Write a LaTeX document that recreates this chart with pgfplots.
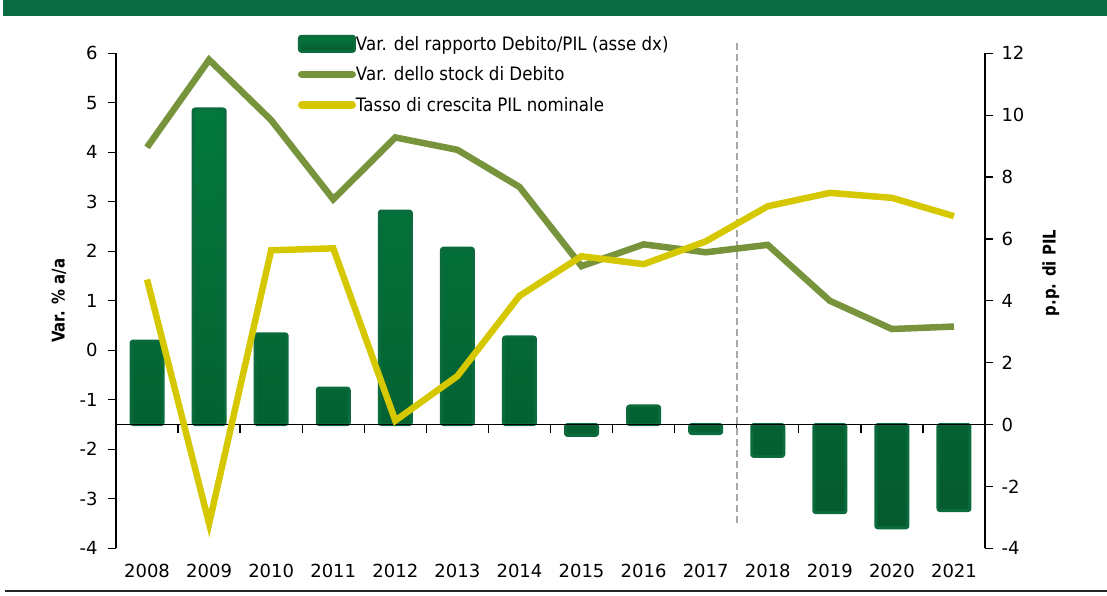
\documentclass[border=0pt]{standalone}
\usepackage{fontspec}
\setmainfont{DejaVu Sans}
\newfontfamily\legfont{DejaVu Sans}[FakeStretch=0.9]
\newfontfamily\labfont{DejaVu Sans}[FakeStretch=0.85]
\usepackage{pgfplots}
\usepackage{pgfplotstable}
\pgfplotsset{compat=1.18}

\definecolor{banner}{HTML}{096C44}
\definecolor{stock}{HTML}{77933C}
\definecolor{pil}{HTML}{D6C800}
\definecolor{barrim}{HTML}{0B6B3C}
\definecolor{bartop}{HTML}{03793D}
\definecolor{barbot}{HTML}{055A2E}

\pgfplotstableread{
x year bar stock pil
0 2008 2.70 4.10 1.43
1 2009 10.20 5.87 -3.50
2 2010 2.93 4.65 2.02
3 2011 1.18 3.05 2.06
4 2012 6.90 4.30 -1.42
5 2013 5.70 4.05 -0.52
6 2014 2.83 3.30 1.10
7 2015 -0.35 1.70 1.90
8 2016 0.60 2.14 1.74
9 2017 -0.29 1.98 2.20
10 2018 -1.03 2.13 2.91
11 2019 -2.85 1.00 3.18
12 2020 -3.34 0.43 3.08
13 2021 -2.78 0.48 2.71
}\datatable

\begin{document}
\begin{tikzpicture}[x=1pt,y=1pt]
\useasboundingbox (0,0) rectangle (1107,595);
\fill[banner] (3,579) rectangle (1107,595);
\draw[line width=2pt, black!85] (5,4) -- (1107,4);

% ---- bar axis (right) ----
\begin{axis}[
  at={(116pt,46.7pt)}, anchor=south west, scale only axis,
  width=869pt, height=495pt,
  xmin=-0.5, xmax=13.5, ymin=-4, ymax=12,
  axis x line=none, axis y line*=right,
  y axis line style={-, line width=1.3pt, black},
  ytick={-4,-2,...,12},
  y tick style={line width=1.3pt, black},
  major tick length=8pt, tick align=outside,
  /pgf/number format/assume math mode=true,
  yticklabel style={font=\fontsize{18}{21}\selectfont, xshift=5pt},
  ylabel={p.p. di PIL},
  ylabel style={font=\labfont\bfseries\fontsize{17.5}{20}\selectfont,
    at={(axis description cs:1.0756,0.556)}, anchor=center},
  clip=false,
]
\addplot[ybar, bar width=32pt, draw=barrim, line width=3pt, rounded corners=2pt,
  line join=round, top color=bartop, bottom color=barbot]
  table[x=x, y=bar] {\datatable};
\draw[black, line width=1.3pt] (axis cs:-0.5,0) -- (axis cs:13.5,0);
\pgfplotsinvokeforeach{0.5,1.5,...,12.5}{
  \draw[black, line width=1.3pt] (axis cs:#1,0) -- ++(0pt,-8pt);
}
\draw[gray!68, line width=1.8pt, dash pattern=on 7pt off 4pt]
  (axis cs:9.5,-3.19) -- (axis cs:9.5,12.36);
\end{axis}

% ---- line axis (left) ----
\begin{axis}[
  at={(116pt,46.7pt)}, anchor=south west, scale only axis,
  width=869pt, height=495pt,
  xmin=-0.5, xmax=13.5, ymin=-4, ymax=6,
  axis y line*=left, axis x line*=bottom,
  x axis line style={draw=none},
  y axis line style={-, line width=1.3pt, black},
  xtick={0,...,13},
  xticklabels={2008,2009,2010,2011,2012,2013,2014,2015,2016,2017,2018,2019,2020,2021},
  x tick style={draw=none},
  ytick={-4,...,6},
  y tick style={line width=1.3pt, black},
  major tick length=8pt, tick align=outside,
  /pgf/number format/assume math mode=true,
  xticklabel style={font=\fontsize{18}{21}\selectfont, yshift=-4.6pt},
  yticklabel style={font=\fontsize{18}{21}\selectfont, xshift=-7pt},
  ylabel={Var. \% a/a},
  ylabel style={font=\labfont\bfseries\fontsize{17.5}{20}\selectfont,
    at={(axis description cs:-0.0656,0.5)}, anchor=center},
  legend style={at={(axis description cs:0.2094,1.0374)}, anchor=north west,
    draw=none, fill=none, inner sep=0pt, outer sep=0pt, row sep=12.5pt,
    font=\legfont\fontsize{18.5}{21}\selectfont,
    nodes={inner sep=0pt}},
  legend cell align=left,
]
\addlegendimage{legend image code/.code={
  \path[draw=none, fill=none] (0pt,-9pt) rectangle (54pt,9pt);
  \draw[barrim, line width=3pt, rounded corners=2pt, top color=bartop, bottom color=barbot]
    (1.5pt,-7.5pt) rectangle (56.5pt,7.5pt);}}
\addlegendentry{Var. del rapporto Debito/PIL (asse dx)}
\addplot[stock, line width=6.5pt, mark=none,
  legend image code/.code={
  \path[draw=none, fill=none] (0pt,-9pt) rectangle (54pt,9pt);
  \draw[stock, line width=7.5pt, line cap=round] (3.75pt,0pt) -- (54.25pt,0pt);}]
  table[x=x, y=stock] {\datatable};
\addlegendentry{Var. dello stock di Debito}
\addplot[pil, line width=6.5pt, mark=none,
  legend image code/.code={
  \path[draw=none, fill=none] (0pt,-9pt) rectangle (54pt,9pt);
  \draw[pil, line width=7.5pt, line cap=round] (3.75pt,0pt) -- (54.25pt,0pt);}]
  table[x=x, y=pil] {\datatable};
\addlegendentry{Tasso di crescita PIL nominale}
\end{axis}
\end{tikzpicture}
\end{document}
